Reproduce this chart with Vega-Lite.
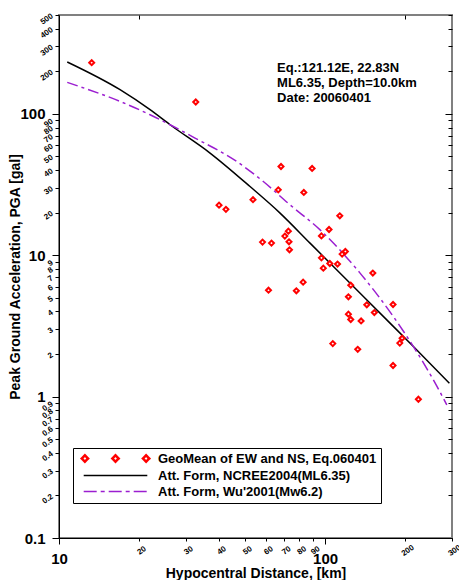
{
  "$schema": "https://vega.github.io/schema/vega-lite/v6.json",
  "width": 393,
  "height": 523,
  "autosize": {"type": "none"},
  "padding": {"left": 59, "top": 15, "right": 7, "bottom": 42},
  "background": "white",
  "config": {
    "view": {"stroke": "#808080", "strokeWidth": 2},
    "font": "Liberation Sans"
  },
  "datasets": {
    "ncree": [
      {"dist": 10.74, "pga": 232.6},
      {"dist": 16.96, "pga": 148.1},
      {"dist": 21.99, "pga": 106.9},
      {"dist": 26.15, "pga": 83.7},
      {"dist": 36.96, "pga": 52.8},
      {"dist": 52.24, "pga": 30.6},
      {"dist": 67.74, "pga": 19.86},
      {"dist": 87.8, "pga": 12.18},
      {"dist": 117.2, "pga": 7.07},
      {"dist": 170.6, "pga": 3.49},
      {"dist": 214.8, "pga": 2.26},
      {"dist": 293.3, "pga": 1.244}
    ],
    "wu": [
      {"dist": 10.74, "pga": 166.8},
      {"dist": 16.96, "pga": 122.4},
      {"dist": 21.99, "pga": 98.5},
      {"dist": 26.15, "pga": 83.7},
      {"dist": 32.45, "pga": 67.4},
      {"dist": 46.56, "pga": 46.0},
      {"dist": 58.6, "pga": 33.2},
      {"dist": 73.9, "pga": 22.7},
      {"dist": 95.8, "pga": 15.1},
      {"dist": 135.4, "pga": 7.47},
      {"dist": 180.6, "pga": 3.68},
      {"dist": 214.8, "pga": 2.26},
      {"dist": 255.3, "pga": 1.313},
      {"dist": 286.8, "pga": 0.874}
    ],
    "obs": [
      {"series": "GeoMean of EW and NS, Eq.060401", "dist": 13.27, "pga": 229.9},
      {"series": "GeoMean of EW and NS, Eq.060401", "dist": 32.66, "pga": 121.2},
      {"series": "GeoMean of EW and NS, Eq.060401", "dist": 68.3, "pga": 42.4},
      {"series": "GeoMean of EW and NS, Eq.060401", "dist": 89.4, "pga": 41.1},
      {"series": "GeoMean of EW and NS, Eq.060401", "dist": 66.7, "pga": 29.0},
      {"series": "GeoMean of EW and NS, Eq.060401", "dist": 83.2, "pga": 27.8},
      {"series": "GeoMean of EW and NS, Eq.060401", "dist": 39.95, "pga": 22.6},
      {"series": "GeoMean of EW and NS, Eq.060401", "dist": 42.4, "pga": 21.1},
      {"series": "GeoMean of EW and NS, Eq.060401", "dist": 53.6, "pga": 24.7},
      {"series": "GeoMean of EW and NS, Eq.060401", "dist": 113.6, "pga": 19.0},
      {"series": "GeoMean of EW and NS, Eq.060401", "dist": 103.5, "pga": 15.2},
      {"series": "GeoMean of EW and NS, Eq.060401", "dist": 72.8, "pga": 14.8},
      {"series": "GeoMean of EW and NS, Eq.060401", "dist": 70.6, "pga": 13.65},
      {"series": "GeoMean of EW and NS, Eq.060401", "dist": 96.9, "pga": 13.7},
      {"series": "GeoMean of EW and NS, Eq.060401", "dist": 58.2, "pga": 12.38},
      {"series": "GeoMean of EW and NS, Eq.060401", "dist": 62.9, "pga": 12.18},
      {"series": "GeoMean of EW and NS, Eq.060401", "dist": 73.2, "pga": 12.44},
      {"series": "GeoMean of EW and NS, Eq.060401", "dist": 73.5, "pga": 10.92},
      {"series": "GeoMean of EW and NS, Eq.060401", "dist": 119.2, "pga": 10.62},
      {"series": "GeoMean of EW and NS, Eq.060401", "dist": 115.9, "pga": 10.18},
      {"series": "GeoMean of EW and NS, Eq.060401", "dist": 96.9, "pga": 9.58},
      {"series": "GeoMean of EW and NS, Eq.060401", "dist": 104.2, "pga": 8.74},
      {"series": "GeoMean of EW and NS, Eq.060401", "dist": 111.4, "pga": 8.66},
      {"series": "GeoMean of EW and NS, Eq.060401", "dist": 98.5, "pga": 8.1},
      {"series": "GeoMean of EW and NS, Eq.060401", "dist": 151.2, "pga": 7.48},
      {"series": "GeoMean of EW and NS, Eq.060401", "dist": 82.7, "pga": 6.45},
      {"series": "GeoMean of EW and NS, Eq.060401", "dist": 124.9, "pga": 6.14},
      {"series": "GeoMean of EW and NS, Eq.060401", "dist": 61.3, "pga": 5.66},
      {"series": "GeoMean of EW and NS, Eq.060401", "dist": 78.0, "pga": 5.6},
      {"series": "GeoMean of EW and NS, Eq.060401", "dist": 122.4, "pga": 5.08},
      {"series": "GeoMean of EW and NS, Eq.060401", "dist": 143.5, "pga": 4.46},
      {"series": "GeoMean of EW and NS, Eq.060401", "dist": 180.1, "pga": 4.48},
      {"series": "GeoMean of EW and NS, Eq.060401", "dist": 153.2, "pga": 3.93},
      {"series": "GeoMean of EW and NS, Eq.060401", "dist": 122.4, "pga": 3.83},
      {"series": "GeoMean of EW and NS, Eq.060401", "dist": 124.9, "pga": 3.51},
      {"series": "GeoMean of EW and NS, Eq.060401", "dist": 136.6, "pga": 3.43},
      {"series": "GeoMean of EW and NS, Eq.060401", "dist": 194.8, "pga": 2.59},
      {"series": "GeoMean of EW and NS, Eq.060401", "dist": 190.9, "pga": 2.39},
      {"series": "GeoMean of EW and NS, Eq.060401", "dist": 106.9, "pga": 2.37},
      {"series": "GeoMean of EW and NS, Eq.060401", "dist": 132.7, "pga": 2.16},
      {"series": "GeoMean of EW and NS, Eq.060401", "dist": 180.1, "pga": 1.66},
      {"series": "GeoMean of EW and NS, Eq.060401", "dist": 224.3, "pga": 0.958}
    ]
  },
  "resolve": {"axis": {"x": "independent", "y": "independent"}},
  "layer": [
    {
      "data": {"name": "ncree"},
      "mark": {"type": "line", "color": "black", "strokeWidth": 1.5, "interpolate": "monotone"},
      "encoding": {
        "x": {
          "field": "dist", "type": "quantitative",
          "scale": {"type": "log", "domain": [10, 300], "nice": false},
          "axis": {
            "orient": "bottom",
            "values": [10, 20, 30, 40, 50, 60, 70, 80, 90, 100, 200, 300],
            "labelExpr": "format(datum.value, 'd')",
            "grid": false,
            "domainColor": "black",
            "tickColor": "black",
            "labelColor": "black",
            "labelFont": "Liberation Sans",
            "labelFontWeight": "bold",
            "labelFontSize": {"condition": {"test": "datum.value==10||datum.value==100", "value": 15}, "value": 8},
            "tickSize": {"condition": {"test": "datum.value==10||datum.value==100", "value": 6}, "value": 3},
            "labelPadding": {"condition": {"test": "datum.value==10||datum.value==100", "value": 7}, "value": 6},
            "labelAngle": {"expr": "(datum.value==10||datum.value==100) ? 0 : -35"},
            "labelAlign": "center",
            "labelBaseline": "top",
            "labelOverlap": false,
            "labelBound": false,
            "labelFlush": false,
            "title": "Hypocentral Distance, [km]",
            "titleFont": "Liberation Sans",
            "titleFontSize": 14,
            "titleFontWeight": "bold",
            "titleColor": "black",
            "titlePadding": 0
          }
        },
        "y": {
          "field": "pga", "type": "quantitative",
          "scale": {"type": "log", "domain": [0.1, 500], "nice": false},
          "axis": {
            "orient": "left",
            "values": [0.1, 0.2, 0.3, 0.4, 0.5, 0.6, 0.7, 0.8, 0.9, 1, 2, 3, 4, 5, 6, 7, 8, 9, 10, 20, 30, 40, 50, 60, 70, 80, 90, 100, 200, 300, 400, 500],
            "labelExpr": "datum.value < 1 ? format(datum.value, '.1f') : format(datum.value, 'd')",
            "grid": false,
            "domainColor": "black",
            "tickColor": "black",
            "labelColor": "black",
            "labelFont": "Liberation Sans",
            "labelFontWeight": "bold",
            "labelFontSize": {"condition": {"test": "datum.value==0.1||datum.value==1||datum.value==10||datum.value==100", "value": 15}, "value": 8},
            "tickSize": {"condition": {"test": "datum.value==0.1||datum.value==1||datum.value==10||datum.value==100", "value": 7}, "value": 4},
            "labelPadding": {"condition": {"test": "datum.value==0.1||datum.value==1||datum.value==10||datum.value==100", "value": 7}, "value": 3},
            "labelAngle": {"expr": "(datum.value==0.1||datum.value==1||datum.value==10||datum.value==100) ? 0 : -35"},
            "labelAlign": "right",
            "labelBaseline": "middle",
            "labelOverlap": false,
            "labelBound": false,
            "labelFlush": false,
            "title": "Peak Ground Acceleration, PGA [gal]",
            "titleFont": "Liberation Sans",
            "titleFontSize": 14,
            "titleFontWeight": "bold",
            "titleColor": "black",
            "titlePadding": -3
          }
        }
      }
    },
    {
      "data": {"name": "wu"},
      "mark": {"type": "line", "color": "#9B1ED0", "strokeWidth": 1.5, "strokeDash": [11, 4, 3, 4], "interpolate": "monotone"},
      "encoding": {
        "x": {
          "field": "dist", "type": "quantitative",
          "scale": {"type": "log", "domain": [10, 300], "nice": false},
          "axis": {
            "orient": "top",
            "values": [20, 200],
            "labels": false,
            "domain": false,
            "grid": false,
            "tickColor": "black",
            "tickSize": -4,
            "title": null
          }
        },
        "y": {
          "field": "pga", "type": "quantitative",
          "scale": {"type": "log", "domain": [0.1, 500], "nice": false},
          "axis": {
            "orient": "right",
            "values": [0.1, 0.2, 0.3, 0.4, 0.5, 0.6, 0.7, 0.8, 0.9, 1, 2, 3, 4, 5, 6, 7, 8, 9, 10, 20, 30, 40, 50, 60, 70, 80, 90, 100, 200, 300, 400, 500],
            "labels": false,
            "domain": false,
            "grid": false,
            "tickColor": "black",
            "tickSize": {"condition": {"test": "datum.value==0.1||datum.value==1||datum.value==10||datum.value==100", "value": -7}, "value": -4},
            "title": null
          }
        }
      }
    },
    {
      "data": {"name": "obs"},
      "mark": {"type": "point", "shape": "diamond", "filled": true, "fill": "white", "size": 25, "strokeWidth": 2, "opacity": 1},
      "encoding": {
        "x": {"field": "dist", "type": "quantitative", "scale": {"type": "log", "domain": [10, 300], "nice": false}, "axis": null},
        "y": {"field": "pga", "type": "quantitative", "scale": {"type": "log", "domain": [0.1, 500], "nice": false}, "axis": null},
        "stroke": {
          "field": "series", "type": "nominal",
          "scale": {
            "domain": ["GeoMean of EW and NS, Eq.060401", "Att. Form, NCREE2004(ML6.35)", "Att. Form, Wu'2001(Mw6.2)"],
            "range": ["#FF0000", "#000000", "#9B1ED0"]
          },
          "legend": {
            "title": null,
            "orient": "none",
            "legendX": 14,
            "legendY": 433,
            "direction": "vertical",
            "strokeColor": "black",
            "fillColor": "white",
            "padding": 4,
            "symbolSize": 144,
            "symbolOffset": 32,
            "labelOffset": 36,
            "rowPadding": 2,
            "symbolType": {"expr": "datum.index == 0 ? 'M-5.63,0L-5.1,-0.53L-4.57,0L-5.1,0.53Z M-0.53,0L0,-0.53L0.53,0L0,0.53Z M4.57,0L5.1,-0.53L5.63,0L5.1,0.53Z' : 'M-5.3,0L5.3,0'"},
            "symbolDash": {"expr": "datum.index == 2 ? [13, 4, 4, 4] : [1, 0]"},
            "symbolStrokeWidth": {"expr": "datum.index == 0 ? 2.5 : 1.5"},
            "labelFont": "Liberation Sans",
            "labelFontSize": 13,
            "labelFontWeight": "bold",
            "labelColor": "black",
            "labelLimit": 400
          }
        }
      }
    },
    {
      "data": {"values": [{"note": "Eq.060401"}]},
      "mark": {
        "type": "text",
        "text": ["Eq.:121.12E, 22.83N", "ML6.35, Depth=10.0km", "Date: 20060401"],
        "font": "Liberation Sans",
        "fontSize": 13,
        "fontWeight": "bold",
        "align": "left",
        "baseline": "middle",
        "lineHeight": 15,
        "color": "black"
      },
      "encoding": {
        "x": {"datum": 66, "type": "quantitative", "scale": {"type": "log", "domain": [10, 300], "nice": false}, "axis": null},
        "y": {"datum": 212, "type": "quantitative", "scale": {"type": "log", "domain": [0.1, 500], "nice": false}, "axis": null}
      }
    }
  ]
}
